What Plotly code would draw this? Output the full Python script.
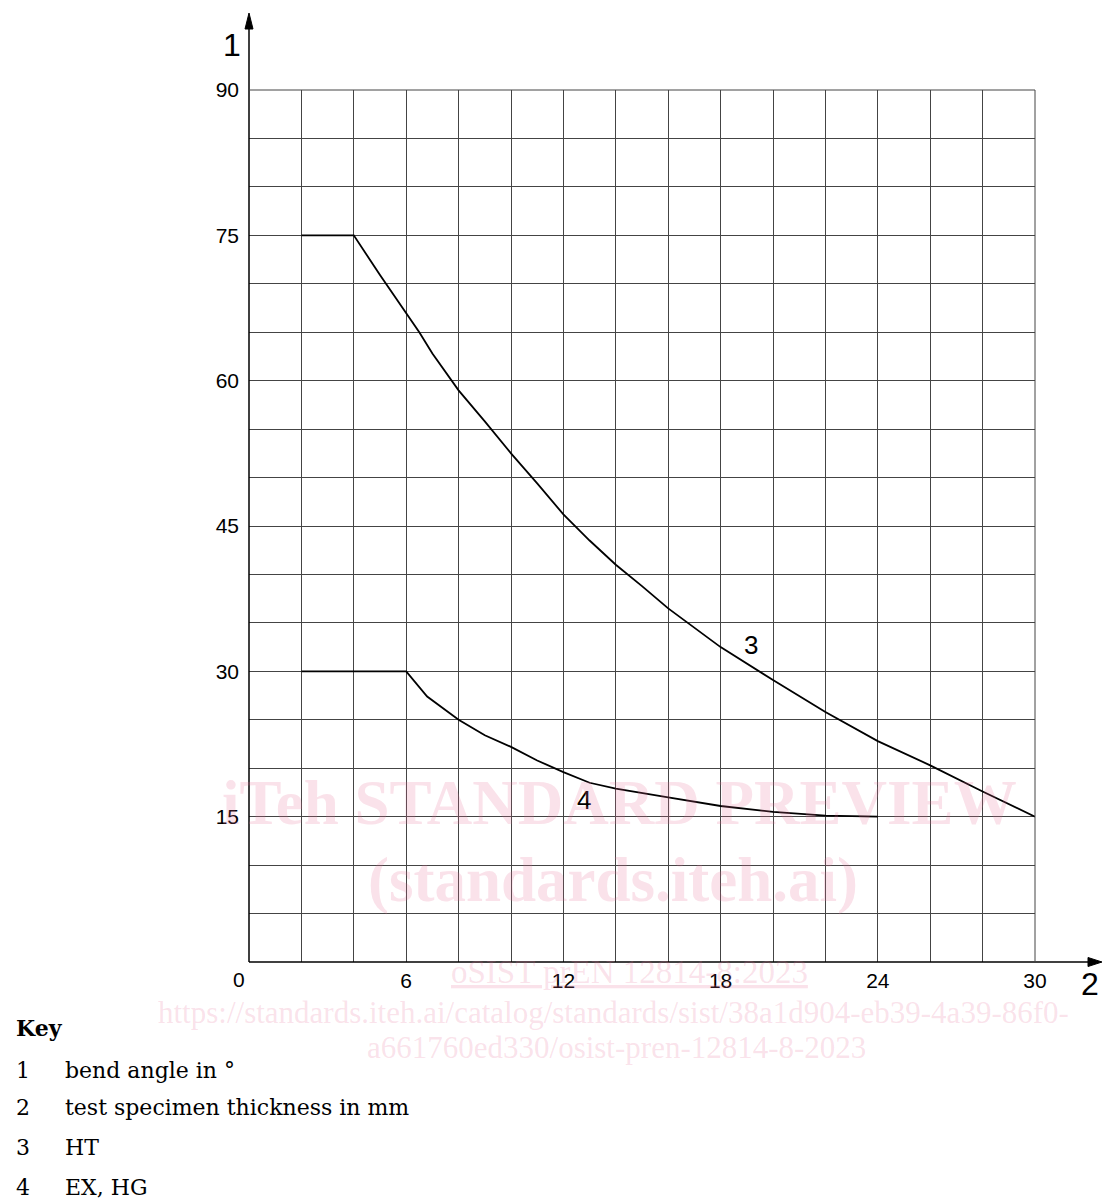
import plotly.graph_objects as go

# ---- data ----
ht_x = [2, 4, 5, 6, 6.5, 7, 8, 9, 10, 11, 12, 13, 14, 15, 16, 18, 20, 22, 24, 26, 28, 30]
ht_y = [75, 75, 70.9, 66.9, 65.0, 62.8, 59.0, 55.8, 52.5, 49.4, 46.2, 43.5, 41.0, 38.8, 36.5, 32.5, 29.1, 25.8, 22.8, 20.3, 17.6, 15]

ex_x = [2, 6, 6.8, 7.5, 8, 9, 10, 11, 12, 13, 14, 16, 18, 20, 22, 24]
ex_y = [30, 30, 27.4, 26.0, 25.0, 23.4, 22.2, 20.8, 19.6, 18.5, 17.9, 17.0, 16.1, 15.5, 15.1, 15.0]

x_ticks = [6, 12, 18, 24, 30]
y_ticks = [15, 30, 45, 60, 75, 90]
key_nums = ["1", "2", "3", "4"]
key_texts = ["bend angle in °", "test specimen thickness in mm", "HT", "EX, HG"]

# ---- layout geometry (pixels) ----
W, H = 1102, 1202
L, R, T, B = 249, 1035, 90, 962


def px(xp):
    return (xp - L) / (R - L)


def py(yp):
    return (B - yp) / (B - T)


fig = go.Figure()
fig.add_trace(go.Scatter(x=ht_x, y=ht_y, mode="lines", line=dict(color="black", width=1.8),
                         showlegend=False, hoverinfo="skip"))
fig.add_trace(go.Scatter(x=ex_x, y=ex_y, mode="lines", line=dict(color="black", width=1.8),
                         showlegend=False, hoverinfo="skip"))

tick_font = dict(family="Liberation Sans, Arial, sans-serif", size=21, color="black")

fig.update_xaxes(range=[0, 30], tickvals=x_ticks, ticktext=[str(v) for v in x_ticks],
                 showgrid=True, gridcolor="#444", gridwidth=1,
                 minor=dict(dtick=2, tick0=0, showgrid=True, gridcolor="#444", gridwidth=1),
                 zeroline=False, showline=False, ticks="", tickfont=tick_font, ticklabelstandoff=4)
fig.update_yaxes(range=[0, 90], tickvals=y_ticks, ticktext=[str(v) for v in y_ticks],
                 showgrid=True, gridcolor="#444", gridwidth=1,
                 minor=dict(dtick=5, tick0=0, showgrid=True, gridcolor="#444", gridwidth=1),
                 zeroline=False, showline=False, ticks="", tickfont=tick_font, ticklabelstandoff=9)

shapes = []
# axis lines with extensions
shapes.append(dict(type="line", xref="paper", yref="paper", x0=0, y0=0, x1=0, y1=py(26),
                   line=dict(color="black", width=1.5)))
shapes.append(dict(type="line", xref="paper", yref="paper", x0=0, y0=0, x1=px(1090), y1=0,
                   line=dict(color="black", width=1.5)))
# right/top grid borders
shapes.append(dict(type="line", xref="paper", yref="paper", x0=0, y0=1, x1=1, y1=1,
                   line=dict(color="#444", width=1)))
shapes.append(dict(type="line", xref="paper", yref="paper", x0=1, y0=0, x1=1, y1=1,
                   line=dict(color="#444", width=1)))
# arrowheads
shapes.append(dict(type="path", xref="paper", yref="paper",
                   path=f"M {px(245)},{py(29)} L {px(249)},{py(13)} L {px(253)},{py(29)} Z",
                   fillcolor="black", line=dict(color="black", width=1)))
shapes.append(dict(type="path", xref="paper", yref="paper",
                   path=f"M {px(1088)},{py(957.5)} L {px(1102)},{py(962)} L {px(1088)},{py(966.5)} Z",
                   fillcolor="black", line=dict(color="black", width=1)))

ann = []


def txt(xp, yp, text, font, xanchor="center"):
    ann.append(dict(x=px(xp), y=py(yp), xref="paper", yref="paper", text=text, showarrow=False,
                    xanchor=xanchor, yanchor="middle", font=font))


sans = "Liberation Sans, Arial, sans-serif"
ann.append(dict(x=0, y=0, xref="x", yref="y", text="0", showarrow=False, xshift=-10,
                yshift=-17, xanchor="center", yanchor="middle", font=tick_font))
txt(232, 45, "1", dict(family=sans, size=32, color="black"))
txt(1090, 984, "2", dict(family=sans, size=32, color="black"))
txt(751, 645, "3", dict(family=sans, size=26, color="black"))
txt(584, 800, "4", dict(family=sans, size=26, color="black"))

# watermark
wm = "rgba(230,110,150,0.2)"
serif = "Liberation Serif, Times New Roman, serif"
txt(619, 803, "<b>iTeh STANDARD PREVIEW</b>", dict(family=serif, size=63, color=wm))
txt(613, 880, "<b>(standards.iteh.ai)</b>", dict(family=serif, size=63, color=wm))
txt(629, 972, "<span style='text-decoration:underline'>oSIST prEN 12814-8:2023</span>",
    dict(family=serif, size=33, color=wm))
txt(613, 1012, "https://standards.iteh.ai/catalog/standards/sist/38a1d904-eb39-4a39-86f0-",
    dict(family=serif, size=31, color=wm))
txt(616, 1047, "a661760ed330/osist-pren-12814-8-2023", dict(family=serif, size=31, color=wm))

# key
key_font = dict(family="DejaVu Serif, serif", size=22, color="black")
txt(14, 1028, "<b>Key</b>", key_font, xanchor="left")
rows = [1070, 1107, 1147, 1187]
for n, t, yy in zip(key_nums, key_texts, rows):
    txt(14, yy, n, key_font, xanchor="left")
    txt(63, yy, t, key_font, xanchor="left")

fig.update_layout(width=W, height=H, margin=dict(l=L, r=W - R, t=T, b=H - B, autoexpand=False),
                  plot_bgcolor="white", paper_bgcolor="white", shapes=shapes, annotations=ann,
                  showlegend=False)

fig.write_html("out.html")
